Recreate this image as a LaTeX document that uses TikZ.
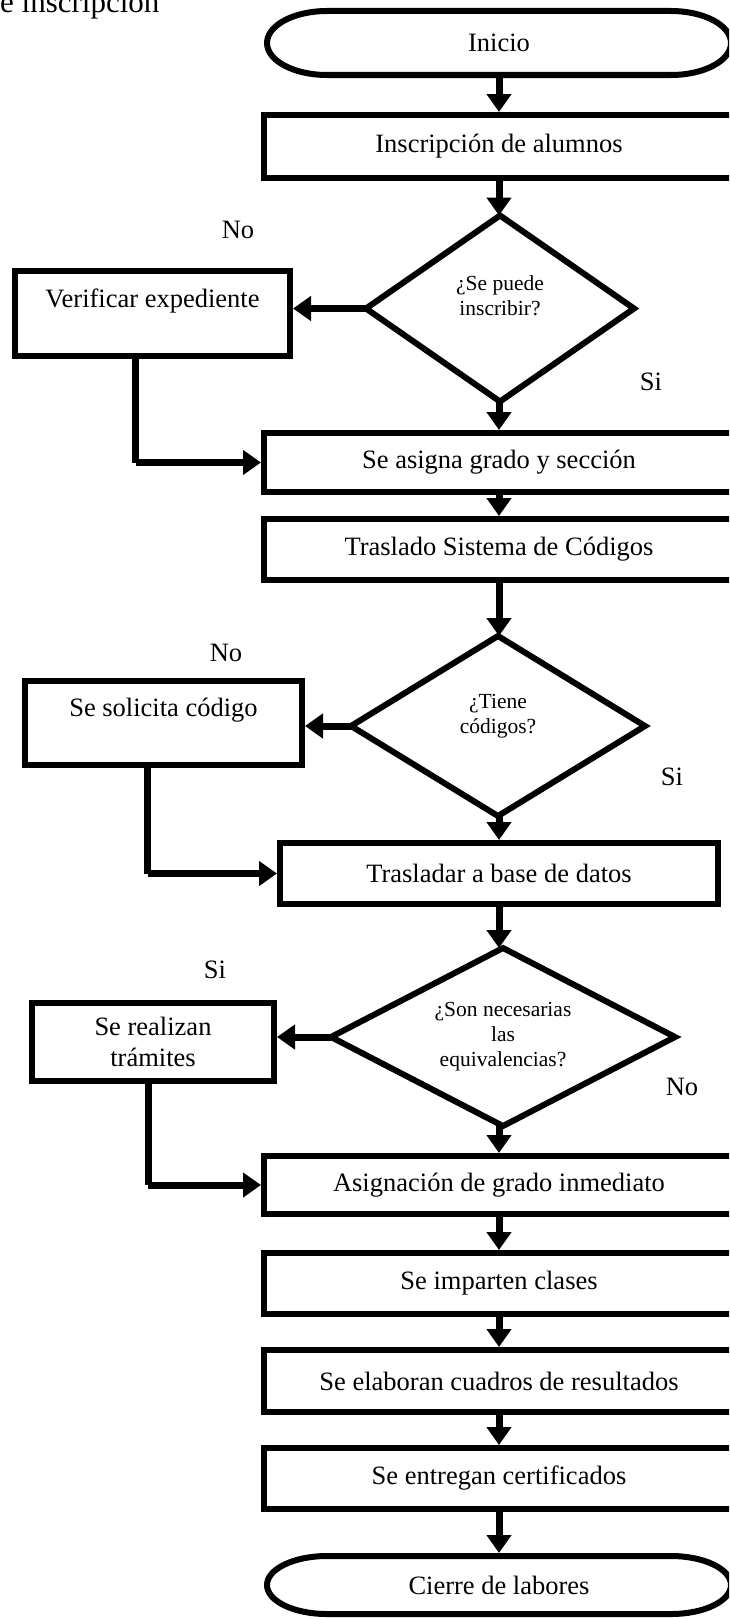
\documentclass[tikz,border=0pt]{standalone}
\usepackage{fontspec}
\setmainfont{Liberation Serif}
\usetikzlibrary{arrows.meta,shapes.geometric}
\begin{document}
\begin{tikzpicture}[x=1pt,y=-1pt,
  proc/.style={draw, line width=6pt, rectangle, inner sep=0pt, outer sep=3pt, align=center, font=\fontsize{26.5}{31}\selectfont},
  wide/.style={proc, minimum width=470pt},
  dec/.style={draw, line width=6pt, diamond, shape aspect=1.5, inner sep=0pt, outer sep=0pt, align=center, font=\fontsize{21.5}{25}\selectfont},
  term/.style={inner sep=0pt, outer sep=0pt, font=\fontsize{26.5}{31}\selectfont},
  termline/.style={line width=6pt},
  lbl/.style={inner sep=0pt, font=\fontsize{26.5}{31}\selectfont},
  flow/.style={line width=7pt, -{Triangle[width=24pt,length=18pt]}},
  link/.style={line width=7pt},
  ]
\useasboundingbox (0,0) rectangle (729,1619);
\clip (0,0) rectangle (729,1619);

% title (cropped)
\node[anchor=base west, inner sep=0pt, font=\fontsize{31}{31}\selectfont] (title) at (0,13) {e inscripción};

% start terminal
\node[term, minimum width=464pt, minimum height=64pt] (ini) at (499,43) {Inicio};
\draw[termline] ([xshift=60pt]ini.north west) -- ([xshift=-60pt]ini.north east)
  arc[start angle=90, end angle=-90, x radius=60pt, y radius=32pt]
  -- ([xshift=60pt]ini.south west)
  arc[start angle=270, end angle=90, x radius=60pt, y radius=32pt] -- cycle;

\node[wide, minimum height=63pt] (b1) at (499,146.5) {Inscripción de alumnos};

\node[dec, minimum width=268pt, minimum height=186pt] (d1) at (500,308.5) {¿Se puede\\inscribir?\\\mbox{}};
\node[proc, minimum width=275pt, minimum height=85pt] (ver) at (152.5,313.5) {Verificar expediente\\\mbox{}};
\node[lbl] (no1) at (238,230) {No};
\node[lbl] (si1) at (651,382) {Si};

\node[wide, minimum height=59pt] (b2) at (499,462.5) {Se asigna grado y sección};
\node[wide, minimum height=61pt] (b3) at (499,549.5) {Traslado Sistema de Códigos};

\node[dec, minimum width=294pt, minimum height=180pt] (d2) at (498,726) {¿Tiene\\códigos?\\\mbox{}};
\node[proc, minimum width=277pt, minimum height=84pt] (sol) at (163.5,723) {Se solicita código\\\mbox{}};
\node[lbl] (no2) at (226,653) {No};
\node[lbl] (si2) at (672,777) {Si};

\node[proc, minimum width=438pt, minimum height=61pt] (b4) at (499,873.5) {Trasladar a base de datos};

\node[dec, minimum width=344pt, minimum height=178pt] (d3) at (503,1037) {¿Son necesarias\\las\\equivalencias?};
\node[proc, minimum width=242pt, minimum height=78pt] (tram) at (153,1042) {Se realizan\\trámites};
\node[lbl] (si3) at (215,970) {Si};
\node[lbl] (no3) at (682,1087) {No};

\node[wide, minimum height=58pt] (b5) at (499,1185) {Asignación de grado inmediato};
\node[wide, minimum height=61pt] (b6) at (499,1283.5) {Se imparten clases};
\node[wide, minimum height=62pt] (b7) at (499,1381) {Se elaboran cuadros de resultados};
\node[wide, minimum height=61pt] (b8) at (499,1478.5) {Se entregan certificados};

% end terminal
\node[term, minimum width=464pt, minimum height=58pt] (fin) at (499,1585) {Cierre de labores};
\draw[termline] ([xshift=60pt]fin.north west) -- ([xshift=-60pt]fin.north east)
  arc[start angle=90, end angle=-90, x radius=60pt, y radius=29pt]
  -- ([xshift=60pt]fin.south west)
  arc[start angle=270, end angle=90, x radius=60pt, y radius=29pt] -- cycle;

% main axis
\coordinate (ax) at (499,0);

% connectors
\draw[flow] (ini.south) -- (ini.south |- b1.north);
\draw[flow] (b1.south -| ax) -- (d1.north -| ax);
\draw[flow] (d1.west) -- (ver.east |- d1.west);
\draw[flow] (d1.south -| ax) -- (b2.north -| ax);
\draw[link] ([xshift=-17pt]ver.south) -- ([xshift=-17pt]ver.south |- b2.west);
\draw[flow] ([xshift=-17pt]ver.south |- b2.west) -- (b2.west);
\draw[flow] (b2.south -| ax) -- (b3.north -| ax);
\draw[flow] (b3.south -| ax) -- (d2.north -| ax);
\draw[flow] (d2.west) -- (sol.east |- d2.west);
\draw[flow] (d2.south -| ax) -- (b4.north -| ax);
\draw[link] ([xshift=-16pt]sol.south) -- ([xshift=-16pt]sol.south |- b4.west);
\draw[flow] ([xshift=-16pt]sol.south |- b4.west) -- (b4.west);
\draw[flow] (b4.south -| ax) -- (d3.north -| ax);
\draw[flow] (d3.west) -- (tram.east |- d3.west);
\draw[flow] (d3.south -| ax) -- (b5.north -| ax);
\draw[link] ([xshift=-5pt]tram.south) -- ([xshift=-5pt]tram.south |- b5.west);
\draw[flow] ([xshift=-5pt]tram.south |- b5.west) -- (b5.west);
\draw[flow] (b5.south -| ax) -- (b6.north -| ax);
\draw[flow] (b6.south -| ax) -- (b7.north -| ax);
\draw[flow] (b7.south -| ax) -- (b8.north -| ax);
\draw[flow] (b8.south -| ax) -- ([yshift=3pt]fin.north);
\end{tikzpicture}
\end{document}
